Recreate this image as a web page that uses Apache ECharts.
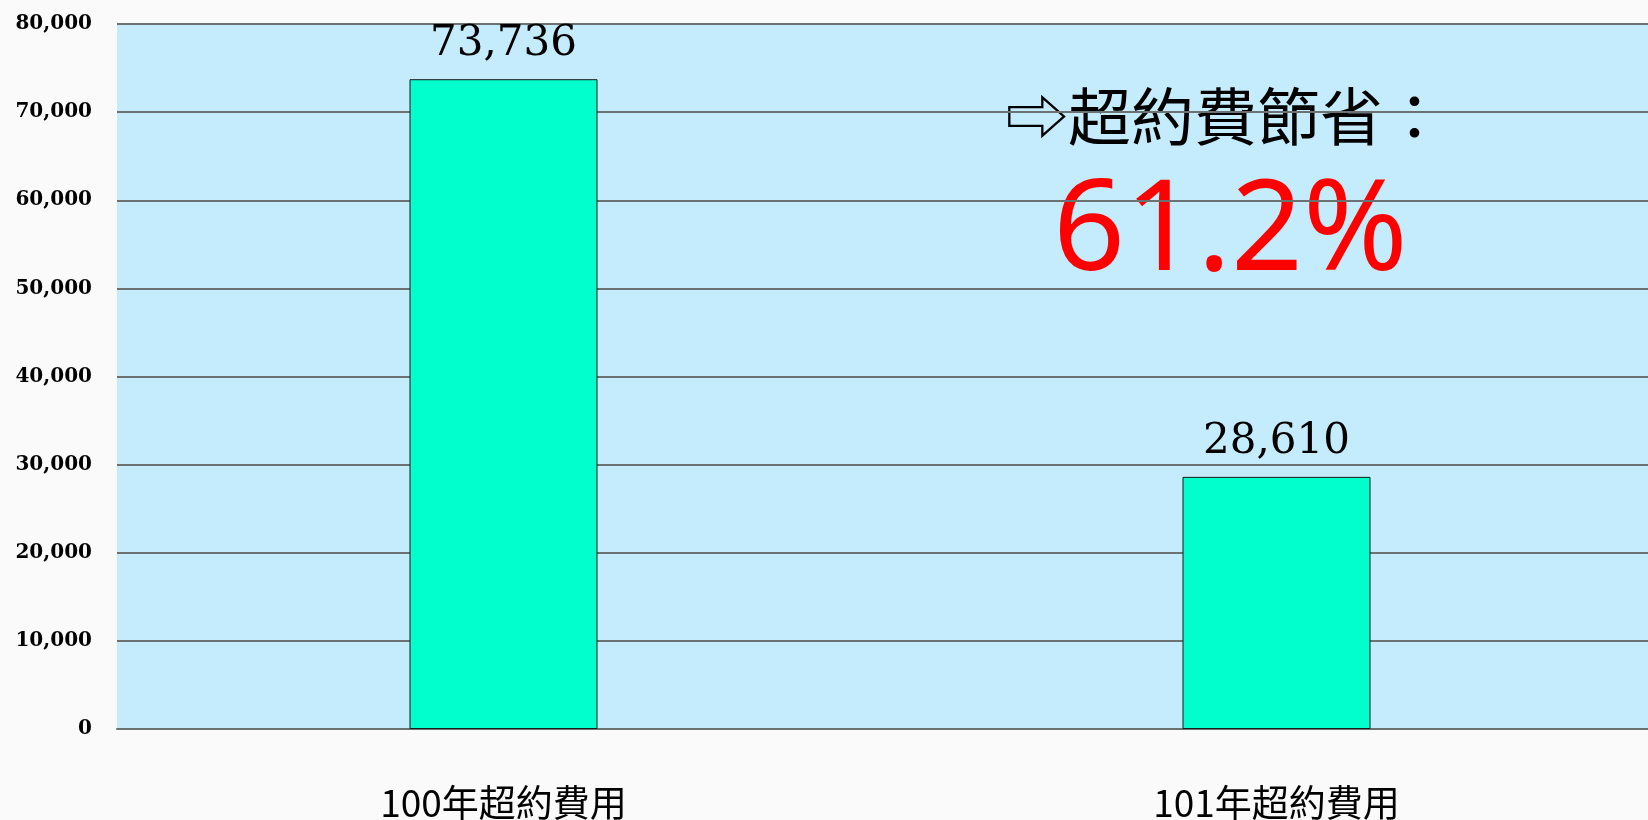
<!DOCTYPE html>
<html>
<head>
<meta charset="utf-8">
<script src="https://cdn.jsdelivr.net/npm/echarts@6/dist/echarts.min.js"></script>
<style>
  html, body { margin: 0; padding: 0; background: #fafafa; }
  #chart { width: 1648px; height: 820px; }
</style>
</head>
<body>
<div id="chart"></div>
<script>
// 資料
var categories = ['100年超約費用', '101年超約費用'];
var costs = [73736, 28610];
var yTicks = [0, 10000, 20000, 30000, 40000, 50000, 60000, 70000, 80000];
var savingTitle = '⇨超約費節省：';
var savingRate = '61.2%';

var myChart = echarts.init(document.getElementById('chart'));

function fmt(v) {
    return v.toLocaleString('en-US');
}

option = {
    backgroundColor: '#fafafa',
    animation: false,
    grid: {
        left: 117,
        right: -15,   // 繪圖區略超出畫面右緣
        top: 24,
        bottom: 91,
        outerBoundsMode: 'none',
        show: true,
        backgroundColor: '#c4ecfc',
        borderWidth: 0
    },
    xAxis: {
        type: 'category',
        data: categories,
        axisLine: { lineStyle: { color: '#6c7272', width: 2 } },
        axisTick: { show: false },
        axisLabel: {
            margin: 55,
            fontSize: 37,
            color: '#000',
            fontFamily: '"Noto Sans CJK TC", "Noto Sans", sans-serif'
        }
    },
    yAxis: {
        type: 'value',
        min: yTicks[0],
        max: yTicks[yTicks.length - 1],
        interval: yTicks[1] - yTicks[0],
        axisLine: { show: false },
        axisTick: { show: false },
        splitLine: { lineStyle: { color: '#6c7272', width: 2 } },
        axisLabel: {
            margin: 25,
            fontSize: 20,
            fontWeight: 'bold',
            color: '#000',
            fontFamily: '"DejaVu Serif", serif',
            formatter: fmt
        }
    },
    series: [
        {
            type: 'bar',
            data: costs,
            barWidth: 188,
            itemStyle: {
                color: '#00ffcc',
                borderColor: '#1a1a1a',
                borderWidth: 1
            },
            label: {
                show: true,
                position: 'top',
                distance: 14,
                fontSize: 42,
                color: '#000',
                fontFamily: '"DejaVu Serif", serif',
                formatter: function (p) { return fmt(p.value); }
            }
        }
    ],
    graphic: [
        {
            type: 'text',
            left: 1005,
            top: 85,
            style: {
                text: savingTitle,
                fontSize: 63,
                fill: '#000',
                fontFamily: '"Noto Sans CJK TC", "DejaVu Sans", sans-serif'
            }
        },
        {
            type: 'text',
            left: 1053,
            top: 171,
            style: {
                text: savingRate,
                fontSize: 126,
                fill: '#ff0000',
                fontFamily: '"Noto Sans", "DejaVu Sans", sans-serif'
            }
        }
    ]
};

myChart.setOption(option);
</script>
</body>
</html>
